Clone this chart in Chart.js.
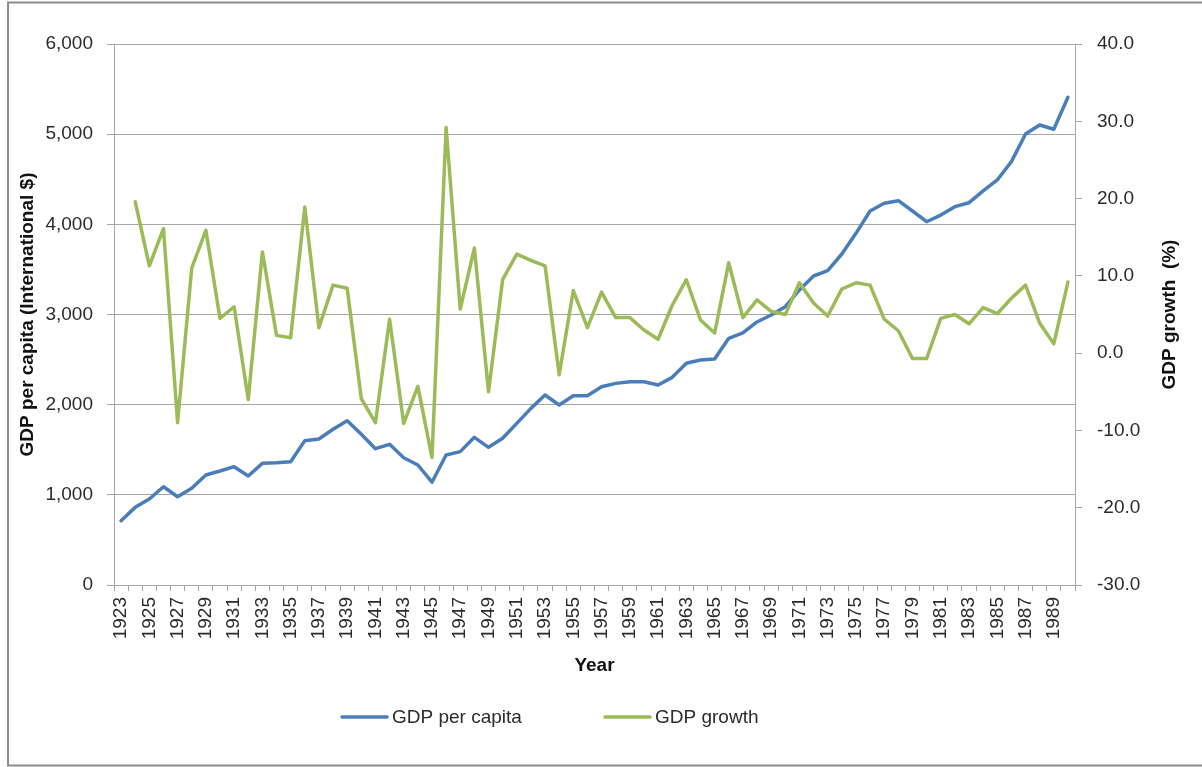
<!DOCTYPE html>
<html>
<head>
<meta charset="utf-8">
<script src="https://cdn.jsdelivr.net/npm/chart.js@4.4.1/dist/chart.umd.min.js"></script>
<style>
  html, body { margin: 0; padding: 0; background: #ffffff; overflow: hidden; }
  #wrap { position: relative; width: 1202px; height: 767px; }
</style>
</head>
<body>
<div id="wrap"><canvas id="c" width="1202" height="767"></canvas></div>
<script>
const years = [
  '1923','1924','1925','1926','1927','1928','1929','1930','1931','1932',
  '1933','1934','1935','1936','1937','1938','1939','1940','1941','1942',
  '1943','1944','1945','1946','1947','1948','1949','1950','1951','1952',
  '1953','1954','1955','1956','1957','1958','1959','1960','1961','1962',
  '1963','1964','1965','1966','1967','1968','1969','1970','1971','1972',
  '1973','1974','1975','1976','1977','1978','1979','1980','1981','1982',
  '1983','1984','1985','1986','1987','1988','1989','1990'
];
const gdpPerCapita = [
  713, 861, 954, 1090, 979, 1072, 1220, 1264, 1312, 1209,
  1349, 1356, 1368, 1601, 1619, 1727, 1822, 1671, 1512, 1560,
  1412, 1331, 1140, 1442, 1479, 1638, 1527, 1627, 1793, 1959,
  2107, 1996, 2099, 2099, 2199, 2236, 2255, 2255, 2218, 2303,
  2459, 2495, 2506, 2736, 2795, 2917, 2994, 3087, 3272, 3427,
  3486, 3671, 3900, 4148, 4233, 4262, 4148, 4029, 4103, 4196,
  4240, 4370, 4492, 4695, 5002, 5102, 5054, 5409
];
const gdpGrowth = [
  null, 19.6, 11.3, 16.1, -9.0, 11.0, 15.9, 4.5, 6.0, -6.0,
  13.1, 2.3, 2.0, 18.9, 3.3, 8.8, 8.4, -5.9, -9.0, 4.4,
  -9.1, -4.3, -13.5, 29.2, 5.7, 13.6, -5.0, 9.5, 12.8, 12.0,
  11.3, -2.8, 8.1, 3.3, 7.9, 4.6, 4.6, 3.0, 1.8, 6.2,
  9.5, 4.3, 2.6, 11.7, 4.6, 6.9, 5.4, 5.0, 9.1, 6.5,
  4.8, 8.3, 9.1, 8.8, 4.4, 2.9, -0.7, -0.7, 4.5, 5.0,
  3.8, 5.9, 5.1, 7.1, 8.8, 3.9, 1.2, 9.2
];
const seriesNames = ['GDP per capita', 'GDP growth'];
const leftTitle = 'GDP per capita (International $)';
const rightTitle = 'GDP growth  (%)';
const xTitle = 'Year';

const FONT = "'Liberation Sans', Arial, sans-serif";
const TXT = '#2b2b2b';
const GRID = '#a6a6a6';
const BLUE = '#4a7ebb';
const GREEN = '#9bbb59';

const framePlugin = {
  id: 'frame',
  beforeDraw(chart) {
    const ctx = chart.ctx;
    ctx.save();
    ctx.strokeStyle = '#8c8c8c';
    ctx.lineWidth = 2;
    ctx.strokeRect(8, 2.5, 1400, 763);
    ctx.restore();
  }
};

const extrasPlugin = {
  id: 'extras',
  afterDraw(chart) {
    const ctx = chart.ctx;
    const area = chart.chartArea;
    // right axis title (reads bottom-to-top)
    ctx.save();
    ctx.translate(1170, (area.top + area.bottom) / 2);
    ctx.rotate(-Math.PI / 2);
    ctx.font = 'bold 19px ' + FONT;
    ctx.fillStyle = '#111';
    ctx.textAlign = 'center';
    ctx.textBaseline = 'middle';
    ctx.fillText(rightTitle, 0, 0);
    ctx.restore();
    // legend
    const starts = [342, 605];
    ctx.save();
    ctx.font = '19px ' + FONT;
    ctx.textBaseline = 'middle';
    ctx.textAlign = 'left';
    chart.data.datasets.forEach((ds, i) => {
      const x = starts[i];
      const y = 717;
      ctx.strokeStyle = ds.borderColor;
      ctx.lineWidth = 3.5;
      ctx.lineCap = 'round';
      ctx.beginPath();
      ctx.moveTo(x, y);
      ctx.lineTo(x + 45, y);
      ctx.stroke();
      ctx.fillStyle = TXT;
      ctx.fillText(ds.label, x + 50, y + 1);
    });
    ctx.restore();
  }
};

new Chart(document.getElementById('c'), {
  type: 'line',
  data: {
    labels: years,
    datasets: [
      {
        label: seriesNames[0],
        data: gdpPerCapita,
        yAxisID: 'y',
        borderColor: BLUE,
        backgroundColor: BLUE,
        borderWidth: 3.5,
        borderJoinStyle: 'round',
        borderCapStyle: 'round',
        pointRadius: 0,
        tension: 0,
        order: 1
      },
      {
        label: seriesNames[1],
        data: gdpGrowth,
        yAxisID: 'y2',
        borderColor: GREEN,
        backgroundColor: GREEN,
        borderWidth: 3.5,
        borderJoinStyle: 'round',
        borderCapStyle: 'round',
        pointRadius: 0,
        tension: 0,
        spanGaps: false,
        order: 0
      }
    ]
  },
  options: {
    responsive: false,
    animation: false,
    events: [],
    layout: { padding: { left: 12, right: 0, top: 44, bottom: 86 } },
    plugins: {
      legend: { display: false },
      tooltip: { enabled: false },
      title: { display: false }
    },
    scales: {
      x: {
        type: 'category',
        offset: true,
        grid: {
          offset: true,
          drawOnChartArea: false,
          color: GRID,
          tickLength: 6,
          lineWidth: 1
        },
        border: { color: GRID, width: 1 },
        ticks: {
          autoSkip: false,
          minRotation: 90,
          maxRotation: 90,
          padding: 6,
          color: TXT,
          font: { family: FONT, size: 19 },
          callback: function (v, i) { return i % 2 === 0 ? this.getLabelForValue(v) : ''; }
        },
        title: {
          display: true,
          text: xTitle,
          color: '#111',
          font: { family: FONT, size: 19, weight: 'bold' },
          padding: { top: 4, bottom: 4 }
        },
        afterFit(scale) { scale.height = 96; }
      },
      y: {
        position: 'left',
        min: 0,
        max: 6000,
        grid: { color: GRID, tickLength: 7, lineWidth: 1 },
        border: { color: GRID, width: 1 },
        ticks: {
          stepSize: 1000,
          padding: 14,
          color: TXT,
          font: { family: FONT, size: 19 },
          callback: (v) => v.toLocaleString('en-US')
        },
        title: {
          display: true,
          text: leftTitle,
          color: '#111',
          font: { family: FONT, size: 19, weight: 'bold' },
          padding: { top: 4, bottom: 4 }
        },
        afterFit(scale) { scale.width = 102; }
      },
      y2: {
        position: 'right',
        min: -30,
        max: 40,
        grid: { drawOnChartArea: false, color: GRID, tickLength: 7, lineWidth: 1 },
        border: { color: GRID, width: 1 },
        ticks: {
          stepSize: 10,
          padding: 15,
          color: TXT,
          font: { family: FONT, size: 19 },
          callback: (v) => v.toFixed(1)
        },
        afterFit(scale) { scale.width = 127; }
      }
    }
  },
  plugins: [framePlugin, extrasPlugin]
});
</script>
</body>
</html>
